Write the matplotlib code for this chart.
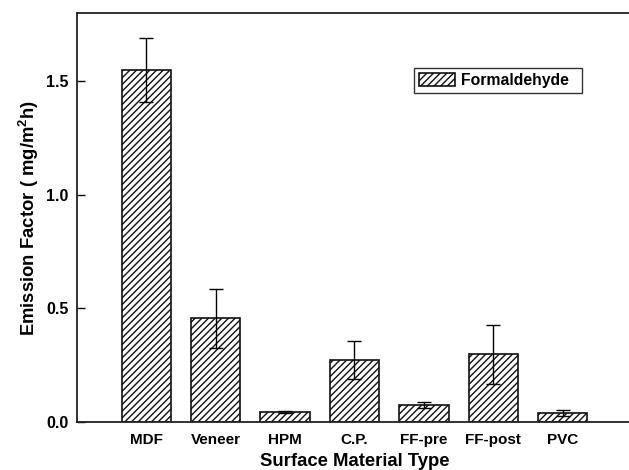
import numpy as np
import matplotlib
matplotlib.use("Agg")
from matplotlib import pyplot as plt

materials = ["MDF", "Veneer", "HPM", "C.P.", "FF-pre", "FF-post", "PVC"]
emission = [1.55, 0.456, 0.045, 0.273, 0.075, 0.299, 0.038]
emission_err = [0.14, 0.13, 0.005, 0.083, 0.013, 0.13, 0.013]

plt.rcParams['font.family'] = ['Liberation Sans', 'DejaVu Sans']
plt.rcParams['font.weight'] = 'bold'
plt.rcParams['mathtext.fontset'] = 'custom'
plt.rcParams['mathtext.rm'] = 'Liberation Sans:bold'
plt.rcParams['mathtext.bf'] = 'Liberation Sans:bold'
plt.rcParams['mathtext.default'] = 'bf'
plt.rcParams['hatch.linewidth'] = 1.0

fig = plt.figure(figsize=(6.29, 4.70), dpi=100)
ax = fig.add_axes([77 / 629, 48 / 470, 555 / 629, 409 / 470])

x = np.arange(1, len(materials) + 1)
ax.bar(x, emission, width=0.71, color='white', edgecolor='#111111',
       linewidth=1.2, hatch='/////', label='Formaldehyde  ', zorder=2)
ax.errorbar(x, emission, yerr=emission_err, fmt='none', ecolor='black',
            elinewidth=1.0, capsize=5, capthick=1.0, zorder=3)

ax.set_xlim(0, 8)
ax.set_ylim(0, 1.8)
ax.set_xticks(x)
ax.set_xticklabels(materials)
ax.set_yticks([0.0, 0.5, 1.0, 1.5])
ax.set_yticklabels(["0.0", "0.5", "1.0", "1.5"])
ax.tick_params(direction='in', length=6, width=1.0, pad=6)
ax.tick_params(axis='y', labelsize=11.5)
ax.tick_params(axis='x', labelsize=11, pad=8)

for side in ['left', 'top', 'bottom']:
    ax.spines[side].set_linewidth(1.3)
    ax.spines[side].set_color('#222222')
ax.spines['right'].set_visible(False)

ax.set_xlabel("Surface Material Type", fontsize=13.3, fontweight='bold', labelpad=4)
ax.set_ylabel("Emission Factor ( mg/m$^2$h)", fontsize=13.3, fontweight='bold', labelpad=4)

leg = ax.legend(loc='upper left', bbox_to_anchor=(414 / 629, 1 - 68 / 470),
                bbox_transform=fig.transFigure, fancybox=False, framealpha=1,
                edgecolor='#333333', fontsize=11.3, handlelength=2.3,
                handleheight=0.95, handletextpad=0.4, borderpad=0.3,
                borderaxespad=0)
leg.get_frame().set_linewidth(1.0)
for t in leg.get_texts():
    t.set_fontweight('bold')

fig.savefig("out.png", dpi=100)
